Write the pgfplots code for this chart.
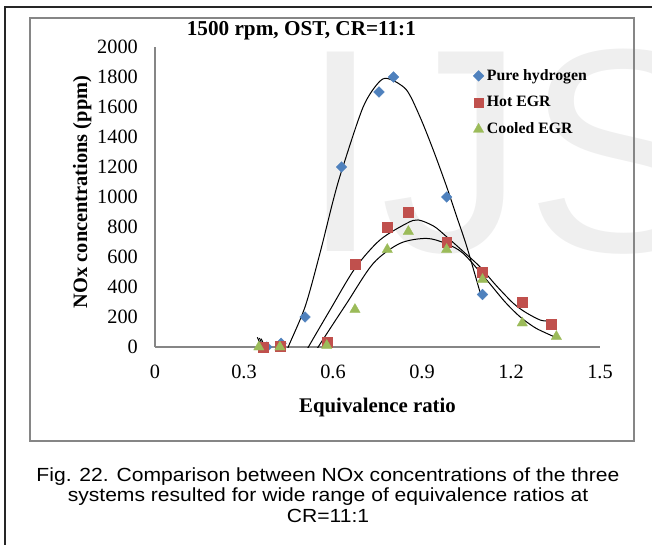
\documentclass[border=0pt]{standalone}
\usepackage{pgfplots}
\pgfplotsset{compat=1.18}
\usepackage{fontspec}
\setmainfont{Liberation Serif}
\newfontfamily\arialfont{Liberation Sans}
\usepackage{graphicx}
\definecolor{hblue}{HTML}{4F81BD}
\definecolor{hred}{HTML}{C0504D}
\definecolor{hgreen}{HTML}{9BBB59}
\definecolor{axgray}{HTML}{868686}
\definecolor{wm}{HTML}{EFEFEF}
\begin{document}
\begin{tikzpicture}
\useasboundingbox (0pt,0pt) rectangle (652pt,544pt);
\clip (0pt,0pt) rectangle (652pt,544pt);
% watermark
\node[anchor=base west, inner sep=0pt, text=wm, font=\arialfont\fontsize{290}{290}\selectfont] at (300pt,293pt) {IJS};
% outer frame
\draw[line width=1.4pt, black!85] (5pt,-5pt) -- (5pt,537pt) -- (660pt,537pt);
% inner frame
\draw[line width=1.2pt, axgray] (30pt,103pt) rectangle (634pt,526pt);
\begin{axis}[
  at={(155pt,197pt)}, anchor=south west,
  scale only axis, width=445pt, height=300pt,
  xmin=0, xmax=1.5, ymin=0, ymax=2000,
  axis lines=left,
  axis line style={draw=axgray, line width=1.5pt, -},
  xtick={0,0.3,0.6,0.9,1.2,1.5},
  xticklabels={0,0.3,0.6,0.9,1.2,1.5},
  ytick={0,200,400,600,800,1000,1200,1400,1600,1800,2000},
  yticklabels={0,200,400,600,800,1000,1200,1400,1600,1800,2000},
  major tick length=0pt,
  scaled ticks=false,
  tick label style={font=\fontsize{20.3}{22}\selectfont},
  xticklabel style={anchor=north, inner sep=0pt, yshift=-18pt},
  yticklabel style={anchor=east, inner sep=0pt, xshift=-17pt},
  title={1500 rpm, OST, CR=11:1},
  title style={at={(axis description cs:0.0712,1.0177)}, anchor=base west, inner sep=0pt, font=\fontsize{21.2}{22}\selectfont\bfseries},
  xlabel={Equivalence ratio},
  xlabel style={at={(axis description cs:0.5,-0.2167)}, anchor=base, inner sep=0pt, font=\fontsize{20.8}{22}\selectfont\bfseries},
  ylabel={NOx concentrations (ppm)},
  ylabel style={at={(axis description cs:-0.1528,0.5167)}, anchor=base, inner sep=0pt, font=\fontsize{20.4}{22}\selectfont\bfseries},
  legend style={at={(axis description cs:0.7146,0.9267)}, anchor=north west, draw=none, fill=none,
    font=\fontsize{15.8}{16}\selectfont\bfseries, row sep=13.3pt, inner sep=0pt,
    nodes={inner sep=0pt, text height=11pt, text depth=2.4pt},
    /tikz/every odd column/.append style={column sep=3pt}},
  legend cell align=left,
  legend image code/.code={\draw[#1] plot coordinates {(0pt,0pt)};},
]
\addplot[only marks, mark=square*, mark size=3.8pt, mark options={rotate=45, fill=hblue, draw=hblue, line width=0.3pt}]
  coordinates {(0.377,0) (0.425,25) (0.506,200) (0.629,1200) (0.755,1700) (0.804,1800) (0.983,1000) (1.104,350)};
\addlegendentry{Pure hydrogen}
\addplot[only marks, mark=square*, mark size=4.9pt, mark options={fill=hred, draw=hred, line width=0.3pt}]
  coordinates {(0.365,0) (0.421,5) (0.579,35) (0.674,550) (0.783,800) (0.854,900) (0.983,700) (1.104,500) (1.238,300) (1.334,150)};
\addlegendentry{Hot EGR}
\addplot[only marks, mark=triangle*, mark size=6pt, mark options={fill=hgreen, draw=hgreen, line width=0.3pt}]
  coordinates {(0.35,0) (0.421,0) (0.579,10) (0.674,250) (0.783,650) (0.854,770) (0.983,650) (1.104,450) (1.238,160) (1.353,70)};
\addlegendentry{Cooled EGR}
% trend lines
\addplot[forget plot, black, line width=1pt] coordinates {(0.345,65) (0.368,-40)};
\addplot[forget plot, black, line width=1pt] coordinates {(0.352,60) (0.374,-40)};
\addplot[forget plot, black, line width=1pt] coordinates {(0.358,55) (0.380,-40)};
\addplot[forget plot, black, line width=1pt, smooth] coordinates {
  (0.44,-60) (0.449,0) (0.506,269) (0.556,625) (0.601,980) (0.63,1180) (0.702,1602) (0.758,1772) (0.792,1785)
  (0.848,1713) (0.893,1535) (0.938,1313) (0.983,1069) (1.017,869) (1.051,669) (1.095,369)};
\addplot[forget plot, black, line width=1pt, smooth] coordinates {
  (0.505,-45) (0.517,0) (0.59,247) (0.674,524) (0.758,713) (0.848,824) (0.887,847) (0.94,805) (0.983,735)
  (1.04,635) (1.095,535) (1.15,410) (1.208,291) (1.25,230) (1.298,180) (1.325,173)};
\addplot[forget plot, black, line width=1pt, smooth] coordinates {
  (0.538,-45) (0.55,0) (0.646,291) (0.736,558) (0.826,691) (0.915,724) (0.98,690) (1.039,624) (1.118,447)
  (1.18,300) (1.23,202) (1.28,130) (1.32,91) (1.353,62)};
\end{axis}
% caption
\node[anchor=base, inner sep=0pt, font=\arialfont\fontsize{19}{21}\selectfont] at (328pt,62.5pt) {\scalebox{1.11}[1]{Fig. 22. Comparison between NOx concentrations of the three}};
\node[anchor=base, inner sep=0pt, font=\arialfont\fontsize{19}{21}\selectfont] at (328pt,43pt) {\scalebox{1.11}[1]{systems resulted for wide range of equivalence ratios at}};
\node[anchor=base, inner sep=0pt, font=\arialfont\fontsize{19}{21}\selectfont] at (328pt,21.5pt) {\scalebox{1.11}[1]{CR=11:1}};
\end{tikzpicture}
\end{document}
